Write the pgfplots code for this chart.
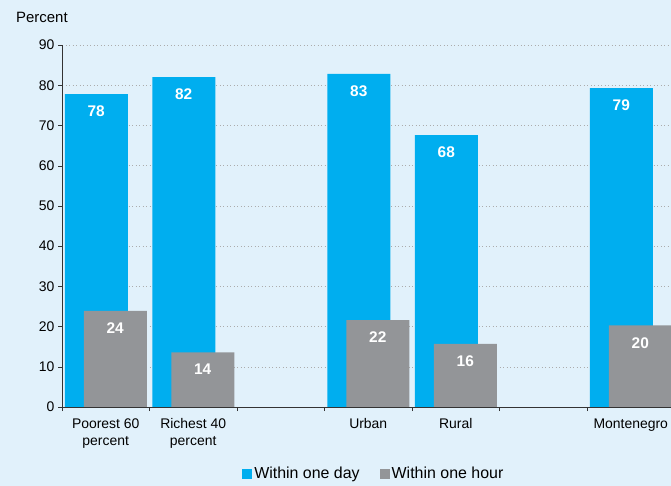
\documentclass[border=0pt]{standalone}
\usepackage{pgfplots}
\pgfplotsset{compat=1.18}
\usepackage{fontspec}
\setmainfont{Liberation Sans}
\definecolor{bg}{HTML}{E1F1FB}
\definecolor{cblue}{HTML}{00AEEF}
\definecolor{cgray}{HTML}{939598}
\begin{document}
\begin{tikzpicture}
\fill[bg] (0bp,0bp) rectangle (671bp,486bp);
\useasboundingbox (0bp,0bp) rectangle (671bp,486bp);
\node[anchor=west, inner sep=0pt, font=\fontsize{15}{17}\selectfont] at (16bp,469bp) {Percent};
\begin{axis}[
  at={(62bp,79bp)}, anchor=south west, scale only axis,
  width=609bp, height=362bp,
  xmin=0, xmax=6.96, ymin=0, ymax=90,
  axis x line*=bottom, axis y line*=left,
  axis line style={-, black!80},
  ybar,
  xtick={0.5,1.5,3.5,4.5,6.5},
  xticklabels={{Poorest 60\\percent},{Richest 40\\percent},Urban,Rural,Montenegro},
  major x tick style={draw=none},
  minor xtick={0,1,2,3,4,5,6},
  minor tick length=4bp,
  major tick length=4bp,
  tick align=outside,
  tick style={black!80},
  ytick={0,10,...,90},
  ymajorgrids,
  grid style={dash pattern=on 1bp off 2.5bp, gray!65},
  /pgf/number format/assume math mode=true,
  tick label style={font=\fontsize{14}{17}\selectfont},
  xticklabel style={align=center, yshift=-4bp},
  nodes near coords,
  every node near coord/.append style={anchor=north, yshift=-8.5bp, text=white, font=\bfseries\fontsize{15.5}{17}\selectfont},
  nodes near coords style={/pgf/number format/.cd, fixed, precision=0},
  legend style={at={(0.512,-0.185)}, anchor=center, draw=none, fill=none,
    font=\fontsize{16}{18}\selectfont, legend columns=2,
    /tikz/every even column/.append style={column sep=18bp}},
  legend image code/.code={\fill[#1] (0bp,-5bp) rectangle (10bp,5bp);},
  legend cell align=left,
]
\addplot[fill=cblue, draw=none, bar width=63bp, bar shift=-9.5bp]
  coordinates {(0.5,77.8) (1.5,82.0) (3.5,82.8) (4.5,67.6) (6.5,79.3)};
\addplot[fill=cgray, draw=none, bar width=63bp, bar shift=9.5bp]
  coordinates {(0.5,23.9) (1.5,13.6) (3.5,21.6) (4.5,15.7) (6.5,20.3)};
\legend{Within one day, Within one hour}
\end{axis}
\end{tikzpicture}
\end{document}
